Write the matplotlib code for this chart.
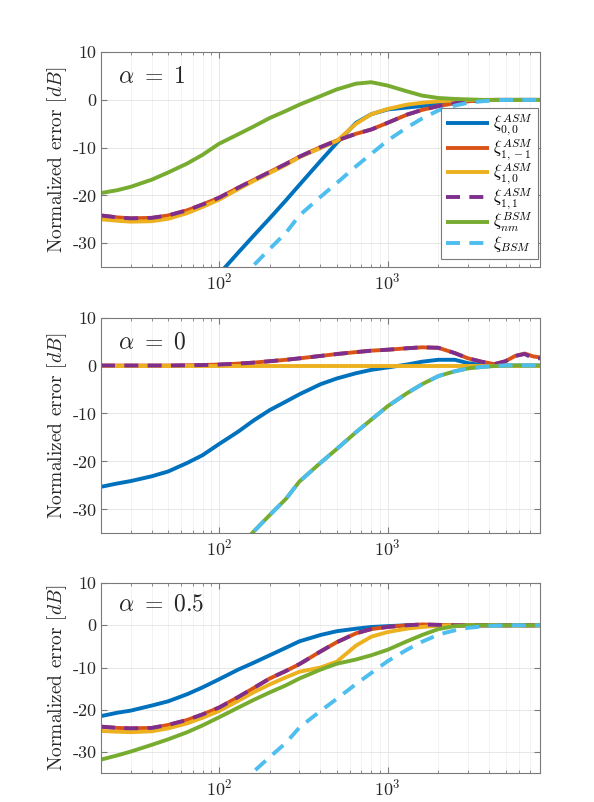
import numpy as np
import matplotlib
matplotlib.use("Agg")
import matplotlib.pyplot as plt
from matplotlib.ticker import NullFormatter

plt.rcParams['font.family'] = 'serif'
plt.rcParams['font.serif'] = ['cmr10']
plt.rcParams['mathtext.fontset'] = 'cm'
plt.rcParams['axes.formatter.use_mathtext'] = True
plt.rcParams['axes.unicode_minus'] = False

# frequency grid (Hz)
freq = [20, 25, 30, 40, 50, 65, 80, 100, 130, 160, 200, 250, 300, 400, 500,
        650, 800, 1000, 1300, 1600, 2000, 2500, 3000, 3600, 4300, 5000, 5700,
        6500, 7300, 8000]
nan = np.nan

# BSM error (same in every panel)
bsm = [nan, nan, nan, nan, nan, nan, nan, nan, -38.0, -34.7, -31.2, -27.8, -24.2,
       -20.3, -17.4, -13.9, -11.3, -8.5, -5.8, -3.9, -2.2, -1.2, -0.6, -0.3,
       -0.1, 0, 0, 0, 0, 0]

# alpha = 1
asm00_a1 = [nan, nan, nan, nan, nan, nan, nan, -36.5, -32.0, -28.5, -24.8, -21.0,
            -17.8, -12.8, -9.0, -4.8, -3.0, -2.0, -1.6, -1.3, -0.9, -0.4, -0.2,
            -0.1, 0, 0, 0, 0, 0, 0]
asm1m1_a1 = [-24.2, -24.6, -24.8, -24.7, -24.2, -23.1, -21.9, -20.5, -18.4, -16.8,
             -15.1, -13.4, -11.9, -9.9, -8.5, -7.1, -6.2, -4.8, -3.1, -2.1, -1.3,
             -0.7, -0.3, -0.1, 0, 0, 0, 0, 0, 0]
asm10_a1 = [-25.0, -25.3, -25.5, -25.4, -24.9, -23.7, -22.4, -20.9, -18.7, -17.0,
            -15.3, -13.6, -12.0, -10.1, -8.6, -5.0, -3.0, -1.9, -1.0, -0.6, -0.3,
            -0.1, 0, 0, 0, 0, 0, 0, 0, 0]
asm11_a1 = asm1m1_a1
bsmnm_a1 = [-19.5, -18.9, -18.2, -16.7, -15.2, -13.3, -11.5, -9.2, -7.2, -5.6,
            -3.8, -2.3, -1.0, 0.8, 2.2, 3.4, 3.7, 3.0, 1.8, 0.9, 0.4, 0.2, 0.1,
            0, 0, 0, 0, 0, 0, 0]

# alpha = 0
asm00_a0 = [-25.3, -24.6, -24.1, -23.1, -22.1, -20.3, -18.7, -16.4, -13.8, -11.5,
            -9.3, -7.5, -6.0, -3.9, -2.7, -1.6, -0.9, -0.4, 0.2, 0.8, 1.2, 1.2,
            0.5, 0.1, 0, 0, 0, 0, 0, 0]
asm1m1_a0 = [0, 0, 0, 0, 0, 0.05, 0.1, 0.2, 0.4, 0.6, 0.9, 1.2, 1.5, 2.0, 2.4,
             2.8, 3.1, 3.3, 3.6, 3.8, 3.7, 2.6, 1.5, 0.8, 0.3, 0.9, 2.0, 2.5,
             1.9, 1.7]
asm10_a0 = [0] * 30
asm11_a0 = [0, 0, 0, 0, 0, 0.05, 0.1, 0.2, 0.4, 0.6, 0.9, 1.2, 1.5, 2.0, 2.4,
            2.8, 3.1, 3.3, 3.6, 3.8, 3.7, 2.6, 1.5, 0.8, 0.3, 0.9, 2.0, 2.4,
            1.5, 1.5]
bsmnm_a0 = bsm

# alpha = 0.5
asm00_a05 = [-21.5, -20.7, -20.2, -19.0, -18.0, -16.3, -14.7, -12.8, -10.5, -8.9,
             -7.1, -5.3, -3.8, -2.3, -1.4, -0.8, -0.4, -0.2, 0, 0, 0, 0, 0, 0,
             0, 0, 0, 0, 0, 0]
asm1m1_a05 = [-24.0, -24.3, -24.4, -24.3, -23.6, -22.4, -21.1, -19.5, -17.0, -14.9,
              -12.6, -10.8, -9.2, -6.2, -4.0, -1.9, -0.9, -0.4, 0, 0.2, 0.1, 0,
              0, 0, 0, 0, 0, 0, 0, 0]
asm10_a05 = [-25.0, -25.2, -25.3, -25.1, -24.4, -23.2, -21.9, -20.3, -17.9, -15.9,
             -14.0, -12.3, -11.0, -10.0, -8.6, -4.8, -2.7, -1.6, -0.8, -0.4, -0.1,
             0, 0, 0, 0, 0, 0, 0, 0, 0]
asm11_a05 = asm1m1_a05
bsmnm_a05 = [-31.8, -30.8, -29.9, -28.3, -27.0, -25.3, -23.7, -21.8, -19.5, -17.7,
             -15.9, -14.2, -12.6, -10.5, -9.1, -8.1, -7.1, -5.8, -3.8, -2.3, -0.9,
             -0.2, 0, 0, 0, 0, 0, 0, 0, 0]

panels = [
    (r'$\alpha\ =\ 1$', [asm00_a1, asm1m1_a1, asm10_a1, asm11_a1, bsmnm_a1, bsm]),
    (r'$\alpha\ =\ 0$', [asm00_a0, asm1m1_a0, asm10_a0, asm11_a0, bsmnm_a0, bsm]),
    (r'$\alpha\ =\ 0.5$', [asm00_a05, asm1m1_a05, asm10_a05, asm11_a05, bsmnm_a05, bsm]),
]

labels = [r'$\xi^{ASM}_{0,0}$', r'$\xi^{ASM}_{1,-1}$', r'$\xi^{ASM}_{1,0}$',
          r'$\xi^{ASM}_{1,1}$', r'$\xi^{BSM}_{nm}$', r'$\xi_{BSM}$']
colors = ['#0072BD', '#D95319', '#EDB120', '#7E2F8E', '#77AC30', '#4DBEEE']
dashed = [False, False, False, True, False, True]

fig = plt.figure(figsize=(5.94, 8.02), dpi=100)
boxes = [[0.170, 0.667, 0.739, 0.268],
         [0.170, 0.335, 0.739, 0.269],
         [0.170, 0.036, 0.739, 0.237]]

edge = '#7a7a7a'
for i, (title, series) in enumerate(panels):
    ax = fig.add_axes(boxes[i])
    for s, lab, c, d in zip(series, labels, colors, dashed):
        ls = (0, (3.6, 2.4)) if d else '-'
        ax.plot(freq, s, color=c, lw=2.8, ls=ls, label=lab,
                solid_capstyle='butt', dash_capstyle='butt')
    ax.set_xscale('log')
    ax.set_xlim(20, 8000)
    ax.set_ylim(-35, 10)
    ax.set_yticks([-30, -20, -10, 0, 10])
    ax.set_yticklabels(['-30', '-20', '-10', '0', '10'])
    ax.xaxis.set_minor_formatter(NullFormatter())
    ax.grid(True, which='major', color='#e3e3e3', lw=0.6)
    ax.grid(True, which='minor', axis='x', color='#efefef', lw=0.5)
    ax.set_axisbelow(True)
    for sp in ax.spines.values():
        sp.set_color(edge)
        sp.set_linewidth(0.8)
    ax.tick_params(which='both', direction='in', top=True, right=True,
                   colors=edge, labelcolor='#262626', labelsize=13, pad=3)
    ax.tick_params(which='major', length=4)
    ax.tick_params(which='minor', length=2.2)
    ax.set_ylabel(r'Normalized error $[dB]$', fontsize=14, color='#262626', labelpad=3)
    ax.text(0.039, 0.885, title, transform=ax.transAxes, fontsize=17,
            va='center', ha='left', color='#262626')
    if i == 0:
        leg = ax.legend(loc='lower right', bbox_to_anchor=(0.996, 0.037),
                        borderaxespad=0, fontsize=12, handlelength=2.6,
                        labelspacing=0.0, handletextpad=0.25, borderpad=0.3,
                        fancybox=False, framealpha=1, edgecolor=edge)
        leg.get_frame().set_linewidth(0.8)

fig.savefig('out.png', dpi=100)
